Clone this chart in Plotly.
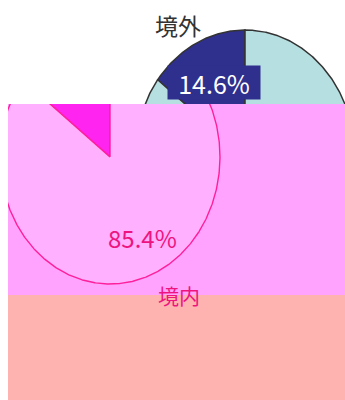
import numpy as np
import plotly.graph_objects as go

# Share of the two categories (percent)
labels = ["境外", "境内"]
shares = [14.6, 85.4]

base_colors = ["#2f2f8e", "#b6dfe1"]
mask_colors = ["#ff24f0", "#ffb0ff"]

W, H = 345, 400
FONT = "Noto Sans CJK JP"

# Pie geometry in pixel units (slightly taller than wide)
cx, cy = 245, 157
rx, ry = 110, 127
shift = 135                      # horizontal offset of the tinted band copy
band_top, band_bottom, band_left = 104, 295, 8

bounds = np.concatenate([[0.0], np.cumsum(shares)]) / sum(shares) * 360.0


def wedge(start, stop, centre_x):
    """Polygon of one slice, angles in degrees counter-clockwise from 12 o'clock."""
    n = max(int(abs(stop - start) / 0.5) + 2, 3)
    rad = np.radians(np.linspace(start, stop, n))
    xs = np.concatenate([[centre_x], centre_x - rx * np.sin(rad), [centre_x]])
    ys = np.concatenate([[cy], cy - ry * np.cos(rad), [cy]])
    return xs, ys


fig = go.Figure()

# Upper panel: the pie itself
for i, lab in enumerate(labels):
    xs, ys = wedge(bounds[i], bounds[i + 1], cx)
    fig.add_trace(go.Scatter(
        x=xs, y=ys, mode="lines", fill="toself", name=lab,
        fillcolor=base_colors[i], line=dict(color="#333333", width=1.5),
        hoverinfo="skip", xaxis="x", yaxis="y"))

# Middle band: tinted, offset copy of the pie
for i, lab in enumerate(labels):
    xs, ys = wedge(bounds[i], bounds[i + 1], cx - shift)
    fig.add_trace(go.Scatter(
        x=xs, y=ys, mode="lines", fill="toself", name=lab,
        fillcolor=mask_colors[i], line=dict(color="#ff1f9a", width=1.4),
        hoverinfo="skip", xaxis="x2", yaxis="y2"))

y_top = 1 - band_top / H
y_bot = 1 - band_bottom / H
x_left = band_left / W

hidden = dict(visible=False, showgrid=False, zeroline=False, fixedrange=True)

fig.update_layout(
    width=W, height=H,
    margin=dict(l=0, r=0, t=0, b=0),
    paper_bgcolor="white", plot_bgcolor="rgba(0,0,0,0)",
    showlegend=False,
    xaxis=dict(domain=[0, 1], range=[0, W], anchor="y", **hidden),
    yaxis=dict(domain=[y_top, 1], range=[band_top, 0], anchor="x", **hidden),
    xaxis2=dict(domain=[x_left, 1], range=[band_left, W], anchor="y2", **hidden),
    yaxis2=dict(domain=[y_bot, y_top], range=[band_bottom, band_top], anchor="x2", **hidden),
    shapes=[
        dict(type="rect", xref="paper", yref="paper", layer="below",
             x0=x_left, x1=1, y0=y_bot, y1=y_top,
             fillcolor="#ffa3ff", line=dict(width=0)),
        dict(type="rect", xref="paper", yref="paper", layer="below",
             x0=x_left, x1=1, y0=0, y1=y_bot,
             fillcolor="#ffb3b0", line=dict(width=0)),
    ],
    annotations=[
        dict(text=labels[0], x=178, y=25, xref="x", yref="y", showarrow=False,
             font=dict(family=FONT, size=23, color="#333333")),
        dict(text=f"{shares[0]:.1f}%", x=214, y=82, xref="x", yref="y", showarrow=False,
             font=dict(family=FONT, size=25, color="white"),
             width=88, height=29, align="center", valign="middle",
             bgcolor=base_colors[0], borderpad=2),
        dict(text=f"{shares[1]:.1f}%", x=142, y=237, xref="x2", yref="y2", showarrow=False,
             font=dict(family=FONT, size=24, color="#ee1480")),
        dict(text=labels[1], x=179, y=295, xref="x2", yref="y2", showarrow=False,
             font=dict(family=FONT, size=21, color="#ee1480")),
    ],
)

fig.write_html("out.html")
